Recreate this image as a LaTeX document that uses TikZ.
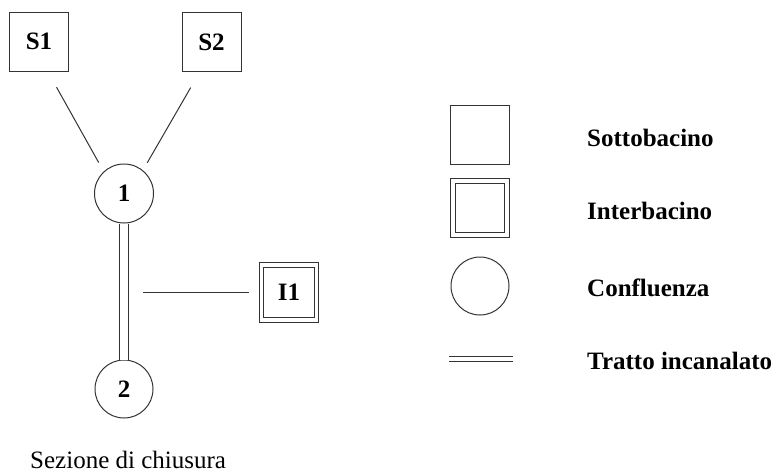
\documentclass[tikz,border=0pt]{standalone}
\usepackage{fontspec}
\setmainfont{Liberation Serif}
\begin{document}
\begin{tikzpicture}[x=1pt,y=-1pt,
  ln/.style={draw=black!80, line width=1pt},
  lbl/.style={font=\fontsize{25}{30}\selectfont\bfseries},
  sq/.style={ln, rectangle, minimum size=59pt, inner sep=0pt, lbl},
  dsq/.style={ln, rectangle, double=white, double distance=3.5pt, minimum size=55pt, inner sep=0pt, lbl},
  cf/.style={ln, circle, minimum size=59pt, inner sep=0pt, lbl},
  canal/.style={ln, double=white, double distance=7.5pt},
  legtxt/.style={anchor=base west, inner sep=0pt, lbl}]
\useasboundingbox (0,0) rectangle (776,475);
% network
\node[sq] (S1) at (39,41.5) {S1};
\node[sq] (S2) at (211.5,42) {S2};
\node[cf] (c1) at (124,193.5) {1};
\node[cf, minimum size=58pt] (c2) at (124,389) {2};
\node[dsq] (I1) at (289,292.5) {I1};
\coordinate (j) at (143,292.5);
\draw[ln, shorten <=18pt, shorten >=5.5pt, transform canvas={xshift=-8pt}] (S1) -- (c1);
\draw[ln, shorten <=18pt, shorten >=5.5pt, transform canvas={xshift=5.5pt}] (S2) -- (c1);
\draw[canal] (c1) -- (c2);
\draw[ln, shorten >=12pt] (j) -- (I1);
\node[anchor=base west, inner sep=0pt, font=\fontsize{25}{30}\selectfont] (sez) at (30,468) {Sezione di chiusura};
% legend
\node[sq] (Lsq) at (480,134.5) {};
\node[dsq, minimum size=54pt, double distance=4pt] (Ldsq) at (479.5,208) {};
\node[cf, minimum size=58pt] (Lcf) at (480,286) {};
\coordinate (La) at (449,358.5);
\coordinate (Lb) at (513,358.5);
\draw[ln, double=white, double distance=4pt] (La) -- (Lb);
\node[legtxt] (t1) at (587,146) {Sottobacino};
\node[legtxt] (t2) at (587,219) {Interbacino};
\node[legtxt] (t3) at (587,296) {Confluenza};
\node[legtxt] (t4) at (587,369) {Tratto incanalato};
\end{tikzpicture}
\end{document}
